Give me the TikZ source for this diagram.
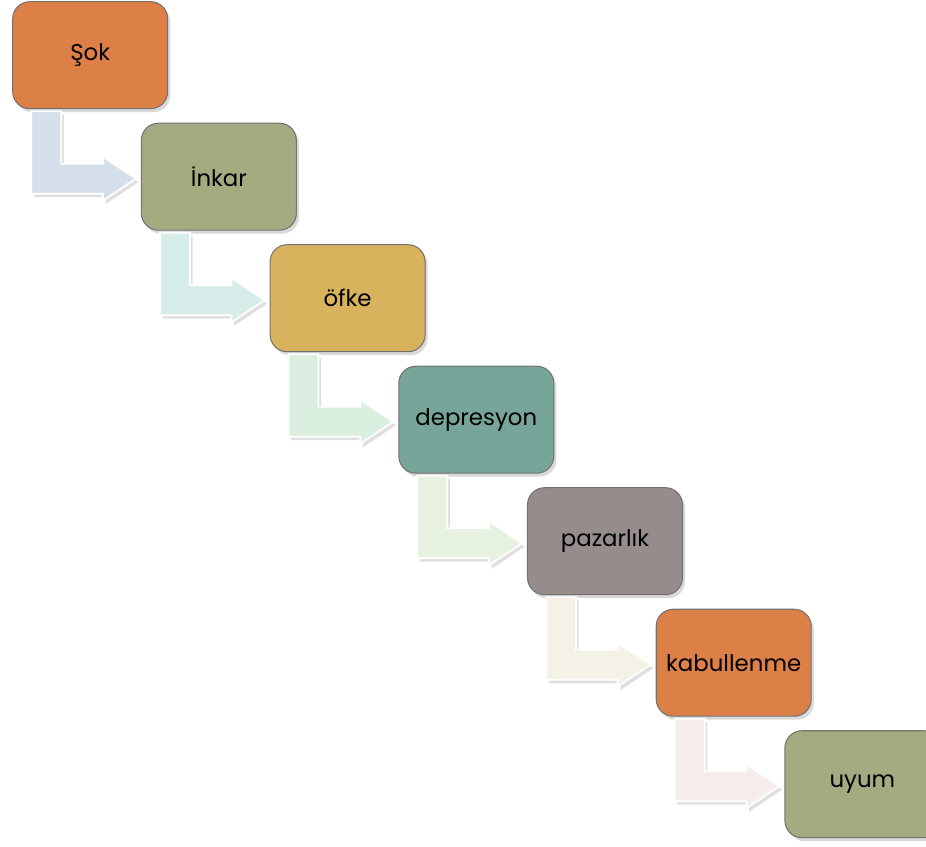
\documentclass[tikz,border=0pt]{standalone}
\usepackage{fontspec}
\setmainfont{Poppins}
\usetikzlibrary{calc,shadows}
\definecolor{turuncu}{HTML}{DD8047}
\definecolor{zeytin}{HTML}{A5AB81}
\definecolor{hardal}{HTML}{D8B25C}
\definecolor{camgobegi}{HTML}{77A59A}
\definecolor{kulrengi}{HTML}{968C8C}
\definecolor{okmavi}{HTML}{D5DFEA}
\definecolor{okturkuaz}{HTML}{D6ECE8}
\definecolor{okyesil}{HTML}{DAEFE0}
\definecolor{okacik}{HTML}{E6F2DF}
\definecolor{okkrem}{HTML}{F4F2E6}
\definecolor{okpembe}{HTML}{F6ECE9}
\newcommand{\colw}{128.7}
\newcommand{\rowh}{121.5}
\newcommand{\shaft}{30}
\newcommand{\headl}{33}
\newcommand{\stage}[4]{
	\node[stagebox, fill=#4] (#1) at (90.2+#2*\colw, 55.2+#2*\rowh) {#3};
	}
\newcommand{\bend}[3]{
	\coordinate (#1-l) at ($(#1.south west)+(19,2)$);
	\coordinate (#2-t) at ($(#2.west)+(-5,2)$);
	\draw[bendarrow, fill=#3] (#1-l) -- ++(\shaft,0) |- ($(#2-t)+(-\headl,-\shaft/2)$) -- ++(0,-7) -- (#2-t) -- ++(-\headl,22) -- ++(0,-7) -- ($(#1-l |- #2-t)+(0,\shaft/2)$) -- cycle;
	}

\begin{document}
\begin{tikzpicture}[
      x=0.02cm, y=-0.02cm, %one unit is one pixel of the picture
      stagebox/.style={draw=black!55, line width=0.6pt, rounded corners=0.34cm,
        minimum width=3.1cm, minimum height=2.14cm, text=black,
        font=\fontsize{13}{15}\selectfont,
        drop shadow={opacity=0.3, shadow xshift=1.5pt, shadow yshift=-2pt}},
      bendarrow/.style={draw=white, line width=1pt,
        drop shadow={opacity=0.25, shadow xshift=1.5pt, shadow yshift=-2pt}}
    ]
    \useasboundingbox (0,0) rectangle (926,846);
    \clip (0,0) rectangle (926,846);
    % the stages
    \stage{sok}{0}{Şok}{turuncu};
    \stage{inkar}{1}{İnkar}{zeytin};
    \stage{ofke}{2}{öfke}{hardal};
    \stage{depresyon}{3}{depresyon}{camgobegi};
    \stage{pazarlik}{4}{pazarlık}{kulrengi};
    \stage{kabul}{5}{kabullenme}{turuncu};
    \stage{uyum}{6}{uyum}{zeytin};
    % bent arrows between stages
    \bend{sok}{inkar}{okmavi};
    \bend{inkar}{ofke}{okturkuaz};
    \bend{ofke}{depresyon}{okyesil};
    \bend{depresyon}{pazarlik}{okacik};
    \bend{pazarlik}{kabul}{okkrem};
    \bend{kabul}{uyum}{okpembe};
    \end{tikzpicture}
\end{document}
